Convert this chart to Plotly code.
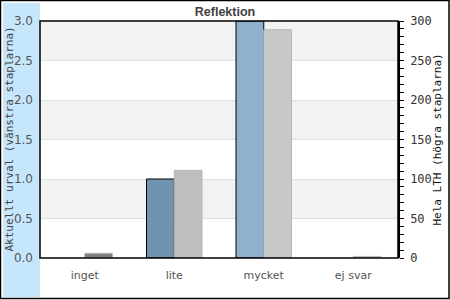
import plotly.graph_objects as go

categories = ["inget", "lite", "mycket", "ej svar"]
left_values = [0, 1.0, 3.0, 0]
right_values = [6, 111, 289, 2]
left_tick_vals = [0, 0.5, 1.0, 1.5, 2.0, 2.5, 3.0]
right_tick_vals = [0, 50, 100, 150, 200, 250, 300]

left_colors = ["#7094b0", "#7094b0", "#8fb1cd", "#8fb1cd"]
right_colors = ["#808080", "#bebebe", "#c8c8c8", "#c8c8c8"]

W, H = 450, 300
L, R, T, B = 40, 52, 21, 42
pw, ph = W - L - R, H - T - B

def px_x(p):
    return (p - L) / pw

def px_y(p):
    return (H - B - p) / ph

fig = go.Figure()
fig.add_trace(go.Bar(
    x=categories, y=left_values, yaxis="y",
    marker=dict(color=left_colors,
                line=dict(color="black", width=[1 if v else 0 for v in left_values])),
    offsetgroup="a", hoverinfo="skip",
))
fig.add_trace(go.Bar(
    x=categories, y=right_values, yaxis="y2",
    marker=dict(color=right_colors, line=dict(color="#b8b8b8", width=1)),
    offsetgroup="b", hoverinfo="skip",
))

shapes = []
shapes.append(dict(type="rect", xref="paper", yref="paper", layer="below",
                   x0=px_x(3), x1=0, y0=px_y(297), y1=px_y(3),
                   fillcolor="#c6e6fc", line=dict(width=0)))
for i in range(len(left_tick_vals) - 1):
    if (len(left_tick_vals) - 2 - i) % 2 == 0:
        shapes.append(dict(type="rect", xref="paper", yref="y", layer="below",
                           x0=0, x1=1, y0=left_tick_vals[i], y1=left_tick_vals[i + 1],
                           fillcolor="#f2f2f2", line=dict(width=0)))
shapes.append(dict(type="rect", xref="paper", yref="paper", layer="above",
                   x0=px_x(0.5), x1=px_x(449), y0=px_y(298.5), y1=px_y(0.5),
                   line=dict(color="black", width=1.5)))
shapes.append(dict(type="rect", xref="paper", yref="paper", layer="above",
                   x0=0, x1=1, y0=0, y1=1, line=dict(color="black", width=1.5)))

fig.update_layout(
    width=W, height=H,
    margin=dict(l=L, r=R, t=T, b=B, pad=0),
    paper_bgcolor="white", plot_bgcolor="rgba(0,0,0,0)",
    showlegend=False,
    barmode="group", bargap=0.38, bargroupgap=0,
    title=dict(text="<b>Reflektion</b>", x=0.5, xanchor="center", y=1 - 12 / H,
               yanchor="middle", font=dict(family="Liberation Sans", size=12.5, color="#404040")),
    xaxis=dict(showgrid=False, showline=False, ticks="", zeroline=False,
               tickfont=dict(family="DejaVu Sans", size=11, color="#555555"),
               ticklabelstandoff=9),
    yaxis=dict(range=[0, 3], tickvals=left_tick_vals,
               ticktext=[f"{v:.1f}" for v in left_tick_vals],
               showgrid=True, gridcolor="#e0e0e0", gridwidth=1, zeroline=False,
               showline=False, ticks="",
               tickfont=dict(family="DejaVu Sans", size=12, color="#555555"),
               ticklabelstandoff=6),
    yaxis2=dict(range=[0, 300], overlaying="y", side="right", tickvals=right_tick_vals,
                showgrid=False, zeroline=False, showline=True, linecolor="black", linewidth=1.5,
                ticks="outside", ticklen=4, tickcolor="black",
                minor=dict(dtick=10, ticks="outside", ticklen=4, tickcolor="black", showgrid=False),
                tickfont=dict(family="DejaVu Sans Mono", size=12, color="#333333"),
                ticklabelstandoff=4),
    shapes=shapes,
    annotations=[
        dict(text="Aktuellt urval (vänstra staplarna)", xref="paper", yref="paper",
             x=px_x(9), y=0.5, textangle=-90, showarrow=False, xanchor="center", yanchor="middle",
             font=dict(family="DejaVu Sans Mono", size=11, color="#444444")),
        dict(text="Hela LTH (högra staplarna)", xref="paper", yref="paper",
             x=px_x(437), y=0.5, textangle=-90, showarrow=False, xanchor="center", yanchor="middle",
             font=dict(family="DejaVu Sans Mono", size=11, color="#111111")),
    ],
)

fig.write_html("out.html")
